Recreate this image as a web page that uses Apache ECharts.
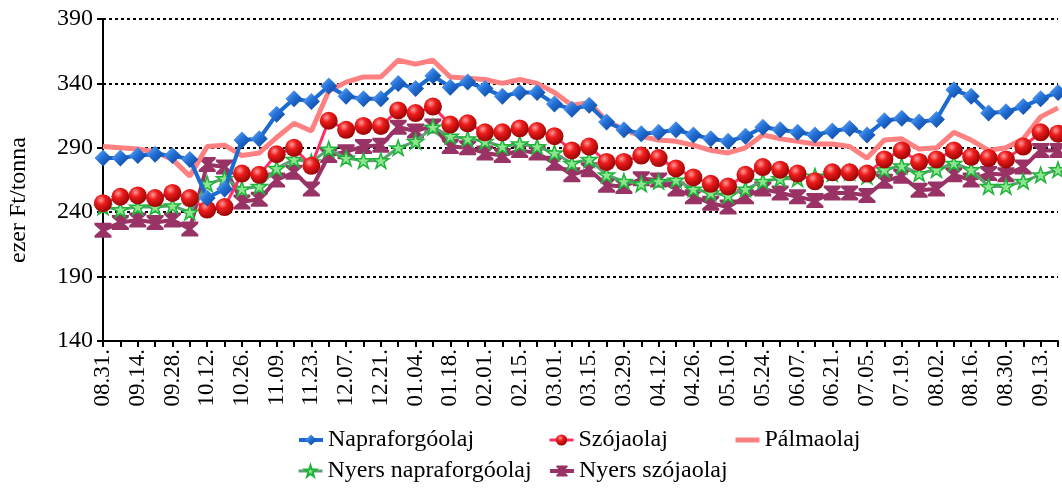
<!DOCTYPE html>
<html>
<head>
<meta charset="utf-8">
<script src="https://cdn.jsdelivr.net/npm/echarts@6/dist/echarts.min.js"></script>
<style>
  html, body { margin: 0; padding: 0; background: #fff; }
  #chart { width: 1062px; height: 488px; }
</style>
</head>
<body>
<div id="chart"></div>
<script>
// heti dátumok
const weeks = [
  "08.31.", "09.07.", "09.14.", "09.21.", "09.28.", "10.05.", "10.12.", "10.19.",
  "10.26.", "11.02.", "11.09.", "11.16.", "11.23.", "11.30.", "12.07.", "12.14.",
  "12.21.", "12.28.", "01.04.", "01.11.", "01.18.", "01.25.", "02.01.", "02.08.",
  "02.15.", "02.22.", "03.01.", "03.08.", "03.15.", "03.22.", "03.29.", "04.05.",
  "04.12.", "04.19.", "04.26.", "05.03.", "05.10.", "05.17.", "05.24.", "05.31.",
  "06.07.", "06.14.", "06.21.", "06.28.", "07.05.", "07.12.", "07.19.", "07.26.",
  "08.02.", "08.09.", "08.16.", "08.23.", "08.30.", "09.06.", "09.13.", "09.20."
];

const napraforgoolaj = [
  282, 282, 284, 285, 284, 281, 251, 258, 296, 297, 316, 328, 326, 338, 330, 328,
  328, 340, 336, 346, 337, 341, 336, 330, 333, 333, 324, 320, 323, 310, 304, 301,
  302, 304, 300, 297, 295, 299, 306, 304, 302, 300, 303, 305, 300, 311, 313, 310,
  312, 335, 330, 317, 318, 322, 328, 333
];
const szojaolaj = [
  247, 252, 253, 251, 255, 251, 242, 244, 270, 269, 285, 290, 276, 311, 304, 307,
  307, 319, 317, 322, 308, 309, 302, 302, 305, 303, 299, 288, 291, 279, 279, 284,
  282, 274, 267, 262, 260, 269, 275, 273, 270, 264, 271, 271, 270, 281, 288, 279,
  281, 288, 283, 282, 281, 291, 302, 301
];
const palmaolaj = [
  291, 290, 289, 287, 281, 268, 291, 292, 284, 286, 298, 309, 303, 334, 341, 345,
  345, 358, 355, 358, 345, 344, 343, 340, 343, 340, 333, 323, 325, 311, 304, 299,
  296, 295, 292, 288, 286, 290, 300, 297, 295, 293, 293, 291, 282, 296, 297, 289,
  290, 302, 296, 288, 290, 297, 314, 321
];
const nyersNapraforgoolaj = [
  244, 242, 244, 244, 245, 240, 262, 266, 258, 260, 274, 281, 279, 289, 282, 280,
  280, 290, 295, 306, 299, 297, 295, 291, 293, 291, 286, 278, 281, 269, 264, 262,
  264, 265, 258, 255, 253, 258, 264, 266, 266, 268, 270, 271, 268, 273, 276, 270,
  273, 278, 273, 260, 260, 264, 269, 273
];
const nyersSzojaolaj = [
  226, 232, 234, 232, 234, 227, 277, 275, 248, 250, 265, 271, 258, 284, 287, 291,
  292, 306, 303, 307, 291, 290, 286, 284, 288, 286, 278, 269, 273, 261, 260, 266,
  265, 258, 252, 247, 244, 252, 258, 255, 252, 249, 255, 255, 253, 264, 268, 257,
  258, 269, 265, 270, 269, 275, 288, 288
];

const serif = "Liberation Serif";
const starPath = "path://M12,0 L14.9,8.6 L24,8.6 L16.6,14 L19.4,22.8 L12,17.4 L4.6,22.8 L7.4,14 L0,8.6 L9.1,8.6 Z";
const hourglassPath = "path://M0,0 L20,0 L20,3 L13,10 L20,17 L20,20 L0,20 L0,17 L7,10 L0,3 Z";

const chart = echarts.init(document.getElementById("chart"));

const legendItem = (name, left, top, lineWidth, extra) => ({
  data: [Object.assign({ name: name }, extra || {})],
  left: left,
  top: top,
  padding: 0,
  itemWidth: 24,
  itemHeight: 14,
  lineStyle: { width: lineWidth },
  textStyle: { fontFamily: serif, fontSize: 24, color: "#000" }
});

chart.setOption({
  animation: false,
  backgroundColor: "#fff",
  grid: { left: 103, right: 4, top: 19, bottom: 147, containLabel: false, outerBoundsMode: "none" },
  legend: [
    legendItem("Napraforgóolaj", 297, 428, 4),
    legendItem("Szójaolaj", 548, 428, 3),
    legendItem("Pálmaolaj", 733, 428, 5, { itemStyle: { opacity: 0 } }),
    legendItem("Nyers napraforgóolaj", 297, 459, 3),
    legendItem("Nyers szójaolaj", 548, 459, 4)
  ],
  xAxis: {
    type: "category",
    data: weeks,
    boundaryGap: false,
    axisLine: { lineStyle: { color: "#000", width: 2 } },
    axisTick: { show: true, interval: 0, length: 6, lineStyle: { color: "#000", width: 2 } },
    axisLabel: {
      interval: 1,
      rotate: 90,
      margin: 8,
      fontFamily: serif,
      fontSize: 23,
      color: "#000"
    },
    splitLine: { show: false }
  },
  yAxis: {
    type: "value",
    min: 140,
    max: 390,
    interval: 50,
    name: "ezer Ft/tonna",
    nameLocation: "middle",
    nameRotate: 90,
    nameGap: 72,
    nameTextStyle: { fontFamily: serif, fontSize: 24, color: "#000", padding: [0, 40, 0, 0] },
    axisLine: { show: true, lineStyle: { color: "#000", width: 2 } },
    axisTick: { show: true, length: 6, lineStyle: { color: "#000", width: 2 } },
    axisLabel: { fontFamily: serif, fontSize: 24, color: "#000", margin: 10 },
    splitLine: { show: true, lineStyle: { color: "#000", width: 2, type: [3, 3] } }
  },
  series: [
    {
      name: "Napraforgóolaj",
      type: "line",
      data: napraforgoolaj,
      z: 6,
      showAllSymbol: true,
      symbol: "diamond",
      symbolSize: 17,
      lineStyle: { color: "#1a6ad0", width: 4 },
      itemStyle: {
        color: new echarts.graphic.LinearGradient(0, 0, 1, 1, [
          { offset: 0, color: "#7fb6ff" },
          { offset: 0.45, color: "#2472d8" },
          { offset: 1, color: "#0a3a8f" }
        ])
      }
    },
    {
      name: "Szójaolaj",
      type: "line",
      data: szojaolaj,
      z: 5,
      showAllSymbol: true,
      symbol: "circle",
      symbolSize: 18,
      lineStyle: { color: "#ff2f66", width: 3 },
      itemStyle: {
        color: new echarts.graphic.RadialGradient(0.38, 0.32, 0.75, [
          { offset: 0, color: "#ff9a9a" },
          { offset: 0.35, color: "#ee1c1c" },
          { offset: 1, color: "#8c0000" }
        ])
      }
    },
    {
      name: "Pálmaolaj",
      type: "line",
      data: palmaolaj,
      z: 4,
      symbol: "none",
      lineStyle: { color: "#ff8080", width: 5 },
      itemStyle: { color: "#ff8080" }
    },
    {
      name: "Nyers napraforgóolaj",
      type: "line",
      data: nyersNapraforgoolaj,
      z: 3,
      showAllSymbol: true,
      symbol: starPath,
      symbolSize: 16,
      symbolKeepAspect: true,
      lineStyle: { color: "#5f9f74", width: 3 },
      itemStyle: { color: "#8de68f", borderColor: "#1fb33a", borderWidth: 1.5 }
    },
    {
      name: "Nyers szójaolaj",
      type: "line",
      data: nyersSzojaolaj,
      z: 2,
      showAllSymbol: true,
      symbol: hourglassPath,
      symbolSize: [17, 15],
      lineStyle: { color: "#993366", width: 4 },
      itemStyle: { color: "#993366" }
    }
  ]
});
</script>
</body>
</html>
